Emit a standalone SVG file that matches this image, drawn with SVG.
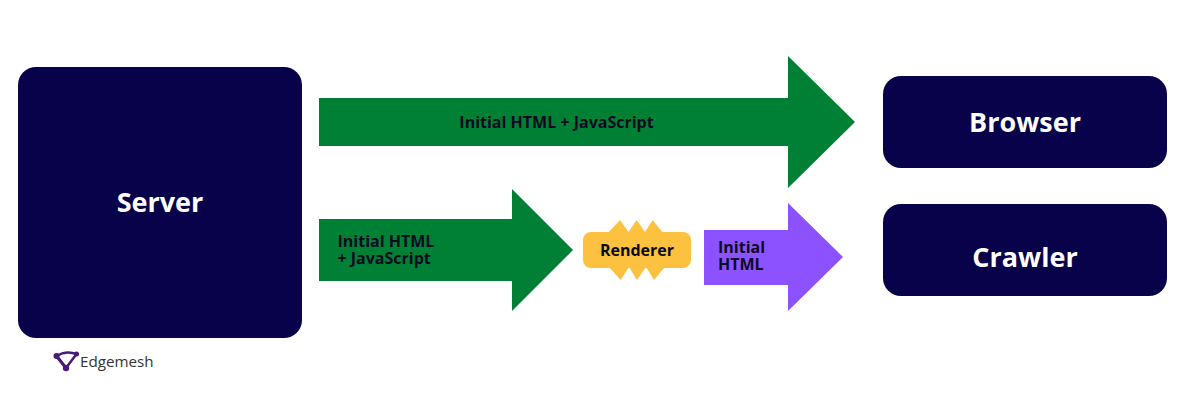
<svg xmlns="http://www.w3.org/2000/svg" width="1200" height="405" viewBox="0 0 1200 405">
<style>
text{font-family:"Open Sans","Noto Sans",sans-serif;font-weight:700}
.n{fill:#07024a}
.w{fill:#fff;text-anchor:middle;font-size:27px}
.b{fill:#0a0a20;font-size:16px}
.g{fill:#008035}
.l{fill:none;stroke:#4a1a78;stroke-width:2.5;stroke-linejoin:round}
.d{fill:#4a1a78}
</style>
<rect width="1200" height="405" fill="#fff"/>
<g id="connectors">
<g id="arrow-top"><polygon class="g" points="319,98 788,98 788,56 855,122 788,188 788,146 319,146"/><text class="b" x="556.500" y="128" text-anchor="middle">Initial HTML + JavaScript</text></g>
<g id="arrow-mid"><polygon class="g" points="319,219 512,219 512,189 573,250 512,311 512,281 319,281"/><text class="b"><tspan x="337.500" y="247">Initial HTML</tspan><tspan x="337.500" y="264">+ JavaScript</tspan></text></g>
<g id="arrow-right"><polygon fill="#8c52ff" points="704,230 788,230 788,203 843,257 788,311 788,285 704,285"/><text class="b"><tspan x="718" y="253">Initial</tspan><tspan x="718" y="270">HTML</tspan></text></g>
</g>
<g id="server"><rect class="n" x="18" y="67" width="284" height="271" rx="18"/><text class="w" x="160" y="212">Server</text></g>
<g id="browser"><rect class="n" x="883" y="76" width="284" height="92" rx="18"/><text class="w" x="1025" y="132">Browser</text></g>
<g id="crawler"><rect class="n" x="883" y="204" width="284" height="92" rx="18"/><text class="w" x="1025" y="267">Crawler</text></g>
<g id="renderer"><path fill="#fbc13f" d="M608 233L620 220L628.500 232L636.700 220L645 232L652.700 220L663 233ZM609 267L620.700 280L629 267L637 280L646 267L654 280L665 267Z"/><rect x="583" y="232" width="108" height="36" rx="8" fill="#fbc13f"/><text class="b" x="637" y="256" text-anchor="middle" style="fill:#0a0a10">Renderer</text></g>
<g id="logo"><path class="l" d="M56.500 356Q66 350 76.500 354L66 368Z"/><path class="l" d="M56.500 356L66 368" style="stroke-width:3"/><circle class="d" cx="56.500" cy="356" r="3"/><circle class="d" cx="76.500" cy="354" r="2.500"/><circle class="d" cx="66" cy="368" r="3.200"/><text x="80" y="367" font-size="15.200" style="font-weight:400" fill="#333">Edgemesh</text></g>
</svg>
